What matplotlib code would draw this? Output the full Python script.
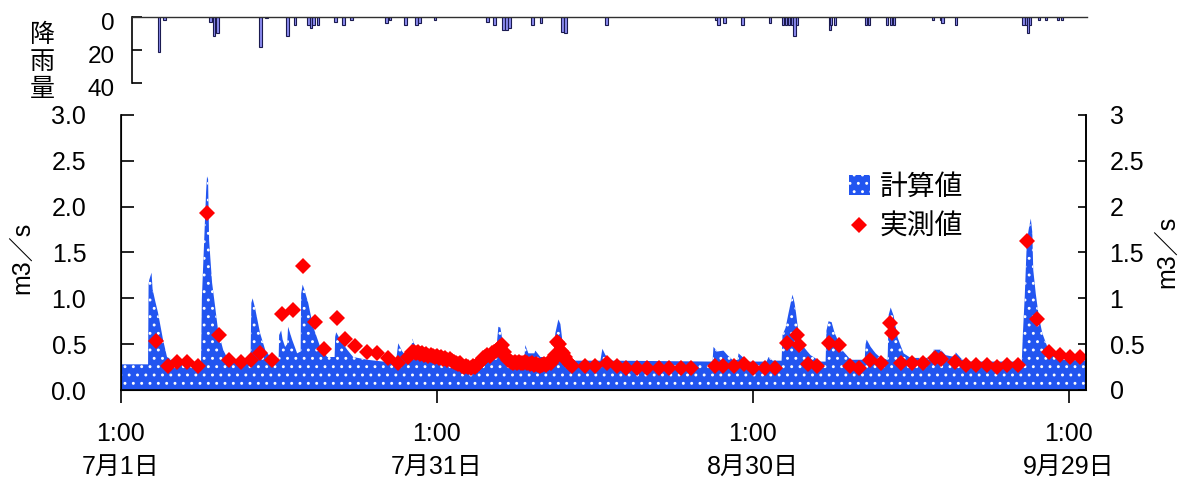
import numpy as np
import matplotlib
matplotlib.use('Agg')
import matplotlib.pyplot as plt
from matplotlib.patches import Patch
from matplotlib.lines import Line2D
from matplotlib.ticker import FuncFormatter

plt.rcParams['font.family'] = ['Liberation Sans', 'Noto Sans CJK JP', 'DejaVu Sans']
plt.rcParams['hatch.linewidth'] = 0.9

# ---------------- data (time in days from 7/1 1:00) ----------------
calc_series = [
    (0.00, 0.28), (2.57, 0.28), (2.62, 1.15), (2.68, 1.20), (2.90, 1.28), (3.00, 1.10),
    (3.23, 0.98), (3.52, 0.84), (3.99, 0.55), (4.37, 0.36), (4.85, 0.33), (7.60, 0.30),
    (7.68, 1.00), (7.89, 1.60), (8.08, 2.16), (8.17, 2.33), (8.27, 2.30), (8.37, 1.63),
    (8.65, 1.17), (8.94, 0.91), (9.22, 0.65), (9.70, 0.44), (10.17, 0.33), (11.30, 0.31),
    (12.30, 0.30), (12.38, 0.95), (12.50, 1.00), (12.74, 0.89), (13.21, 0.62), (13.69, 0.44),
    (14.16, 0.36), (14.85, 0.33), (14.97, 0.33), (15.02, 0.60), (15.21, 0.65), (15.35, 0.55),
    (15.59, 0.47), (15.78, 0.50), (15.87, 0.69), (16.06, 0.62), (16.25, 0.55), (16.73, 0.40),
    (17.06, 0.42), (17.11, 1.05), (17.25, 1.15), (17.40, 1.10), (17.78, 0.95), (18.25, 0.69),
    (18.92, 0.47), (19.58, 0.36), (20.29, 0.36), (20.34, 0.58), (20.44, 0.63), (20.82, 0.55),
    (21.48, 0.44), (22.05, 0.36), (23.38, 0.33), (24.90, 0.31), (26.14, 0.33), (26.33, 0.51),
    (26.71, 0.42), (27.09, 0.37), (27.57, 0.40), (27.66, 0.56), (28.04, 0.45), (28.71, 0.34),
    (29.66, 0.31), (34.10, 0.31), (34.41, 0.36), (35.65, 0.45), (35.84, 0.69), (36.03, 0.68),
    (36.22, 0.55), (36.50, 0.51), (36.98, 0.36), (37.36, 0.32), (38.30, 0.33), (38.40, 0.49),
    (38.69, 0.40), (39.26, 0.40), (39.35, 0.43), (39.83, 0.36), (41.06, 0.36), (41.25, 0.62),
    (41.54, 0.77), (41.73, 0.72), (42.02, 0.44), (42.49, 0.36), (43.16, 0.32), (45.53, 0.32),
    (45.72, 0.45), (46.01, 0.38), (46.67, 0.32), (56.18, 0.31), (56.27, 0.47), (56.65, 0.42),
    (57.22, 0.43), (57.60, 0.38), (58.17, 0.32), (58.56, 0.33), (58.65, 0.40), (59.03, 0.36),
    (59.60, 0.31), (61.31, 0.31), (61.50, 0.36), (61.88, 0.32), (62.74, 0.32), (62.83, 0.60),
    (63.12, 0.68), (63.40, 0.84), (63.64, 0.97), (63.78, 1.04), (63.97, 0.95), (64.11, 0.84),
    (64.35, 0.62), (64.83, 0.47), (65.49, 0.38), (66.44, 0.31), (66.92, 0.31), (67.00, 0.65),
    (67.20, 0.75), (67.49, 0.74), (67.78, 0.62), (68.06, 0.55), (68.54, 0.43), (69.30, 0.33),
    (70.63, 0.33), (70.72, 0.50), (70.82, 0.55), (71.20, 0.47), (71.67, 0.40), (72.15, 0.35),
    (72.81, 0.33), (72.91, 0.82), (73.10, 0.90), (73.38, 0.81), (73.76, 0.57), (74.33, 0.40),
    (75.00, 0.35), (76.90, 0.35), (77.19, 0.44), (77.85, 0.44), (78.33, 0.38), (79.18, 0.36),
    (79.28, 0.41), (79.75, 0.35), (80.23, 0.31), (85.55, 0.31), (85.65, 0.60), (85.84, 1.04),
    (86.03, 1.62), (86.22, 1.76), (86.41, 1.87), (86.55, 1.72), (86.64, 1.31), (86.88, 1.05),
    (87.17, 0.80), (87.50, 0.62), (87.98, 0.47), (88.60, 0.38), (89.54, 0.33), (91.73, 0.32),
]

obs_daily_early = [
    (3.33, 0.53), (4.44, 0.26), (5.32, 0.31), (6.25, 0.31), (7.35, 0.26), (8.20, 1.93),
    (9.31, 0.60), (10.30, 0.33), (11.38, 0.31), (12.36, 0.33), (13.24, 0.40), (14.31, 0.33),
    (15.28, 0.83), (16.32, 0.87), (17.27, 1.35), (18.44, 0.74), (19.30, 0.45), (20.53, 0.79),
    (21.29, 0.56), (22.27, 0.48), (23.32, 0.42), (24.27, 0.40), (25.32, 0.35), (26.27, 0.30),
    (27.22, 0.36),
]

obs_dense_start = 27.6
obs_dense_step = 0.2
obs_dense_flow = [
    0.41, 0.42, 0.40, 0.41, 0.39, 0.40, 0.38, 0.39, 0.37, 0.38, 0.37, 0.36, 0.37, 0.35,
    0.36, 0.34, 0.35, 0.33, 0.34, 0.32, 0.31, 0.30, 0.28, 0.29, 0.26, 0.25, 0.26, 0.25,
    0.24, 0.26, 0.25, 0.27, 0.30, 0.32, 0.35, 0.36, 0.38, 0.37, 0.40, 0.41, 0.43, 0.45,
    0.47, 0.49, 0.41, 0.36, 0.33, 0.31, 0.30, 0.31, 0.30, 0.31, 0.29, 0.30, 0.31, 0.29,
    0.28, 0.29, 0.27, 0.28, 0.27, 0.26, 0.27, 0.28, 0.27, 0.29, 0.30, 0.33, 0.38, 0.52,
    0.50, 0.43, 0.40, 0.36, 0.32, 0.28,
]

obs_daily_late = [
    (42.87, 0.26), (44.10, 0.26), (45.06, 0.26), (46.20, 0.29), (47.10, 0.26), (48.00, 0.24),
    (49.00, 0.24), (49.97, 0.24), (51.07, 0.24), (52.03, 0.24), (53.14, 0.24), (54.18, 0.24),
    (56.37, 0.26), (57.16, 0.26), (58.20, 0.26), (59.15, 0.28), (60.05, 0.24), (61.12, 0.24),
    (62.07, 0.24), (63.21, 0.51), (64.16, 0.60), (64.38, 0.49), (65.24, 0.28), (66.13, 0.26),
    (67.24, 0.51), (68.19, 0.49), (69.23, 0.26), (70.09, 0.24), (71.13, 0.33), (72.15, 0.29),
    (73.03, 0.73), (73.26, 0.62), (74.12, 0.30), (75.10, 0.30), (76.21, 0.30), (77.28, 0.35),
    (77.92, 0.34), (79.18, 0.31), (80.23, 0.27), (81.18, 0.27), (82.22, 0.27), (83.17, 0.25),
    (84.13, 0.27), (85.20, 0.27), (86.09, 1.62), (86.98, 0.77), (88.15, 0.42), (89.19, 0.38),
    (90.14, 0.36), (91.09, 0.36),
]

rain_series = [
    (2.59, 21), (3.14, 2), (7.50, 3), (7.87, 11.6), (8.23, 10), (12.33, 18), (12.89, 1),
    (14.91, 11.6), (15.64, 5), (16.93, 5), (17.18, 7), (17.40, 5), (17.85, 5), (19.50, 3),
    (20.30, 5), (21.09, 2), (24.40, 3.6), (24.76, 2), (26.24, 5), (27.34, 5), (27.63, 4),
    (29.07, 2), (34.10, 3), (34.77, 5), (35.68, 8), (35.96, 8), (36.20, 7), (38.44, 5),
    (39.25, 3.6), (41.31, 9), (41.60, 10), (45.56, 5), (56.11, 2), (56.27, 5), (56.84, 3.6),
    (58.57, 5), (61.23, 3.6), (62.48, 5), (62.76, 5), (63.05, 5), (63.34, 5), (63.56, 11.6),
    (63.82, 5), (66.99, 8), (67.08, 5), (67.47, 5), (70.44, 5), (70.73, 5), (72.46, 5),
    (72.84, 5), (73.13, 5), (76.87, 2), (77.64, 2), (77.80, 3.6), (79.08, 5), (85.56, 5),
    (85.84, 5), (85.99, 10), (86.18, 5), (87.05, 2), (87.72, 2), (88.87, 2), (89.25, 2),
]

x_tick_days = [0, 30, 60, 90]
x_tick_labels = ['1:00\n7月1日', '1:00\n7月31日', '1:00\n8月30日', '1:00\n9月29日']
y_ticks = [0, 0.5, 1.0, 1.5, 2.0, 2.5, 3.0]
rain_ticks = [0, 20, 40]
legend_labels = ['計算値', '実測値']
rain_label = '降雨量'
y_label = 'm3／s'

# ---------------- styling ----------------
BLUE = '#2255f0'
RED = '#ff0000'
XMAX = 91.65
FS = 18

calc_t = np.array([p[0] for p in calc_series])
calc_v = np.array([p[1] for p in calc_series])
dense_t = obs_dense_start + obs_dense_step * np.arange(len(obs_dense_flow))
obs_t = np.concatenate([[p[0] for p in obs_daily_early], dense_t, [p[0] for p in obs_daily_late]])
obs_v = np.concatenate([[p[1] for p in obs_daily_early], obs_dense_flow, [p[1] for p in obs_daily_late]])
rain_t = [p[0] for p in rain_series]
rain_v = [p[1] for p in rain_series]

fig = plt.figure(figsize=(11.85, 4.84), dpi=100)
W, H = 1185.0, 484.0

# main axes
ax = fig.add_axes([121 / W, 1 - 390 / H, (1086 - 121) / W, (390 - 115) / H])
ax.fill_between(calc_t, calc_v, 0, facecolor=BLUE, edgecolor='white', hatch='..',
                linewidth=0, zorder=2)
ax.plot(obs_t, obs_v, linestyle='none', marker='D', markersize=8.5, color=RED,
        markeredgewidth=0, zorder=3)
ax.set_xlim(0, XMAX)
ax.set_ylim(0, 3.0)
ax.set_yticks(y_ticks)
ax.yaxis.set_major_formatter(FuncFormatter(lambda v, p: f'{v:.1f}'))
ax.set_xticks(x_tick_days)
ax.set_xticklabels(x_tick_labels, linespacing=1.45)
ax.tick_params(axis='y', direction='in', length=9, width=1.2, pad=25, labelsize=FS)
ax.tick_params(axis='x', direction='out', length=9, width=1.2, pad=14, labelsize=FS)
ax.spines['top'].set_visible(False)
for s in ['left', 'bottom', 'right']:
    ax.spines[s].set_linewidth(1.2)

ax2 = ax.twinx()
ax2.set_ylim(0, 3.0)
ax2.set_yticks(y_ticks)
ax2.yaxis.set_major_formatter(FuncFormatter(lambda v, p: f'{v:g}'))
ax2.tick_params(axis='y', direction='in', length=6, width=1.2, pad=17, labelsize=FS)
ax2.spines['top'].set_visible(False)
ax2.spines['right'].set_linewidth(1.2)

fig.text(22 / W, 1 - 258 / H, y_label, rotation=90, ha='center', va='center', fontsize=FS)
fig.text(1167 / W, 1 - 252 / H, y_label, rotation=90, ha='center', va='center', fontsize=FS)

# legend
handles = [Patch(facecolor=BLUE, edgecolor='white', hatch='..', linewidth=0),
           Line2D([], [], linestyle='none', marker='D', markersize=8.0, color=RED,
                  markeredgewidth=0)]
ax.legend(handles, legend_labels, loc='upper left', bbox_to_anchor=(849 / W, 1 - 175 / H),
          bbox_transform=fig.transFigure, frameon=False, fontsize=20, handlelength=0.75,
          handleheight=0.75, handletextpad=0.35, labelspacing=0.5, borderpad=0,
          borderaxespad=0)

# rain axes
axr = fig.add_axes([132 / W, 1 - 83.3 / H, (1087 - 132) / W, (83.3 - 16.7) / H])
axr.bar(rain_t, rain_v, width=0.27, color='#8c8cf0', edgecolor='#1a1a50', linewidth=0.8,
        align='center')
axr.set_xlim(0, XMAX)
axr.set_ylim(40, 0)
axr.set_xticks([])
axr.set_yticks(rain_ticks)
axr.set_yticklabels([])
axr.tick_params(axis='y', direction='in', length=7, width=1.2)
axr.spines['bottom'].set_visible(False)
axr.spines['right'].set_visible(False)
axr.spines['top'].set_linewidth(1.0)
axr.spines['top'].set_color('#303030')
axr.spines['left'].set_linewidth(1.2)
axr.patch.set_alpha(0)
for v in rain_ticks:
    axr.annotate(str(v), xy=(0, v), xycoords=('axes fraction', 'data'),
                 xytext=(-17, -7), textcoords='offset pixels', ha='right', va='center',
                 fontsize=17.5, annotation_clip=False)

for i, ch in enumerate(rain_label):
    fig.text(42 / W, 1 - (35 + 27 * i) / H, ch, ha='center', va='center', fontsize=18)

fig.savefig('out.png', dpi=100)
